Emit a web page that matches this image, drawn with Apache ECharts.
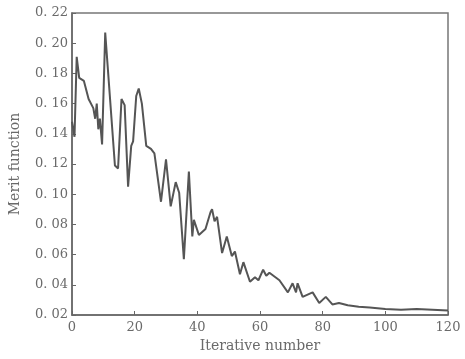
<!DOCTYPE html>
<html>
<head>
<meta charset="utf-8">
<script src="https://cdn.jsdelivr.net/npm/echarts@6/dist/echarts.min.js"></script>
<style>html,body{margin:0;padding:0;background:#fff}#c{width:465px;height:359px}</style>
</head>
<body>
<div id="c"></div>
<script>
const iterations = [0, 0.6, 0.8, 1.2, 1.5, 2.3, 3.8, 5.3, 6.8, 7.4, 7.9, 8.4, 8.9, 9.6, 10.6, 13.7, 14.7, 15.8, 16.8, 17.9, 18.9, 19.5, 20.5, 21.3, 22.3, 23.7, 25.2, 25.8, 26.3, 28.4, 30.0, 31.5, 33.1, 34.2, 35.7, 37.3, 38.4, 38.9, 40.5, 42.6, 44.2, 44.7, 45.5, 46.3, 47.9, 49.4, 51.0, 52.0, 53.6, 54.7, 56.8, 58.4, 59.5, 61.0, 62.0, 63.0, 66.2, 68.9, 70.4, 71.5, 72.0, 73.6, 76.8, 78.9, 81.0, 83.1, 85.2, 88, 91.5, 95, 100, 105, 110, 115, 120];
const merit = [0.148, 0.148, 0.138, 0.138, 0.191, 0.177, 0.175, 0.163, 0.157, 0.150, 0.160, 0.143, 0.150, 0.133, 0.207, 0.119, 0.117, 0.163, 0.159, 0.105, 0.132, 0.135, 0.165, 0.170, 0.160, 0.132, 0.130, 0.131, 0.127, 0.095, 0.123, 0.092, 0.108, 0.101, 0.057, 0.115, 0.072, 0.083, 0.073, 0.077, 0.088, 0.090, 0.082, 0.085, 0.061, 0.072, 0.059, 0.062, 0.047, 0.055, 0.042, 0.045, 0.043, 0.050, 0.046, 0.048, 0.043, 0.035, 0.041, 0.035, 0.041, 0.032, 0.035, 0.028, 0.032, 0.027, 0.028, 0.0265, 0.0255, 0.025, 0.024, 0.0235, 0.024, 0.0235, 0.023];
const xTicks = [0, 20, 40, 60, 80, 100, 120];
const yTicks = [0.02, 0.04, 0.06, 0.08, 0.10, 0.12, 0.14, 0.16, 0.18, 0.20, 0.22];
const xName = 'Iterative number';
const yName = 'Merit function';

const chart = echarts.init(document.getElementById('c'), null, {renderer: 'canvas'});
const txt = '#6a6a6a';
const font = 'DejaVu Serif';
chart.setOption({
  animation: false,
  backgroundColor: '#fff',
  grid: {left: 68, right: 17, top: 13, bottom: 44, show: true, borderColor: '#777', borderWidth: 1.5, backgroundColor: 'transparent'},
  xAxis: {
    type: 'value', min: xTicks[0], max: xTicks[xTicks.length - 1], interval: 20,
    name: xName, nameLocation: 'middle', nameGap: 24,
    nameTextStyle: {color: txt, fontFamily: font, fontSize: 14},
    axisLine: {lineStyle: {color: '#666', width: 1.5}},
    axisTick: {inside: true, length: 4, lineStyle: {color: '#666'}},
    axisLabel: {color: txt, fontFamily: font, fontSize: 13, margin: 6},
    splitLine: {show: false}
  },
  yAxis: {
    type: 'value', min: yTicks[0], max: yTicks[yTicks.length - 1], interval: 0.02,
    name: yName, nameLocation: 'middle', nameGap: 50, nameRotate: 90,
    nameTextStyle: {color: txt, fontFamily: font, fontSize: 14},
    axisLine: {lineStyle: {color: '#666', width: 1.5}},
    axisTick: {inside: true, length: 4, lineStyle: {color: '#666'}},
    axisLabel: {color: txt, fontFamily: font, fontSize: 13, margin: 4,
      formatter: v => v.toFixed(2).replace('.', '. ')},
    splitLine: {show: false}
  },
  series: [{
    type: 'line',
    data: iterations.map((x, i) => [x, merit[i]]),
    showSymbol: false,
    lineStyle: {color: '#555', width: 2},
    itemStyle: {color: '#555'}
  }]
});
</script>
</body>
</html>
